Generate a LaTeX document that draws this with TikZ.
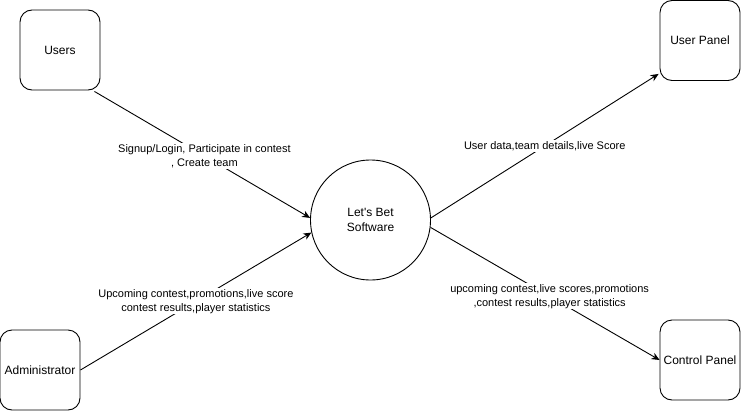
\documentclass[tikz,border=0pt]{standalone}
\usepackage{fontspec}
\setmainfont{Liberation Sans}
\usetikzlibrary{arrows.meta,calc}
\begin{document}
\begin{tikzpicture}[x=1pt,y=-1pt,
  box/.style={draw,line width=0.9pt,rounded corners=12pt,minimum width=80pt,minimum height=80pt,inner sep=0pt,font=\fontsize{12}{14}\selectfont,align=center},
  proc/.style={draw,line width=0.9pt,circle,minimum size=120pt,inner sep=0pt,font=\fontsize{12}{15}\selectfont,align=center},
  flow/.style={line width=0.9pt,-{Stealth[length=8pt,width=7pt,inset=2.5pt]}},
  lbl/.style={fill=white,inner sep=1pt,font=\fontsize{11}{14}\selectfont,align=center}]
\useasboundingbox (0,0) rectangle (741,412);
\node[box] (users) at (60,50) {Users};
\node[box] (admin) at (40,370) {Administrator};
\node[box] (up) at (700,40.5) {User Panel};
\node[box] (cp) at (700,360) {Control Panel};
\node[proc] (soft) at (370.5,220) {Let\textquotesingle s Bet\\Software};
\draw[flow] ($(users.south east)+(-6,1)$) -- node[lbl,pos=0.51] {Signup/Login, Participate in contest\\, Create team} (soft.178);
\draw[flow] (admin.east) -- node[lbl,pos=0.5] {Upcoming contest,promotions,live score\\contest results,player statistics} (soft.192);
\draw[flow] (soft.2) -- node[lbl,pos=0.5] {User data,team details,live Score} ($(up.south west)+(-1,-7)$);
\draw[flow] (soft.-7) -- node[lbl,pos=0.52] {upcoming contest,live scores,promotions\\,contest results,player statistics} (cp.west);
\end{tikzpicture}
\end{document}
